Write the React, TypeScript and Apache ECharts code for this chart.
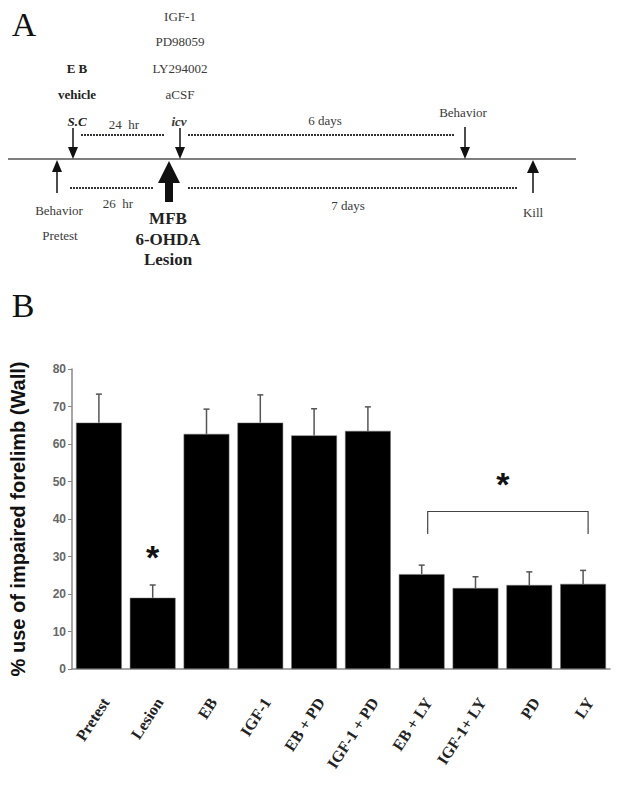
import React, { useEffect, useRef } from "react";
import * as echarts from "echarts";

const categories = ["Pretest", "Lesion", "EB", "IGF-1", "EB + PD", "IGF-1 + PD", "EB + LY", "IGF-1+ LY", "PD", "LY"];
const means = [65.7, 19.0, 62.7, 65.7, 62.3, 63.5, 25.3, 21.6, 22.4, 22.7];
const sems = [7.6, 3.4, 6.6, 7.4, 7.1, 6.4, 2.4, 3.0, 3.5, 3.6];
const yTicks = [0, 10, 20, 30, 40, 50, 60, 70, 80];
// significance marks: [category index, value]
const lesionStar = [[1, 31]];
// bracket: [fromIdx, toIdx, topValue, legBottomValue]
const bracket = [[6, 9, 42, 36]];

const SERIF = "'Liberation Serif', 'Times New Roman', serif";
const SANS = "'Liberation Sans', Arial, sans-serif";
const TXT = "#3a3a3a";

function downArrow(x: number, y0: number, y1: number, hw: number, hh: number, sw: number) {
  return [
    { type: "line", shape: { x1: x, y1: y0, x2: x, y2: y1 - hh + 1 }, style: { stroke: "#111", lineWidth: sw } },
    { type: "polygon", shape: { points: [[x - hw, y1 - hh], [x + hw, y1 - hh], [x, y1]] }, style: { fill: "#111" } },
  ];
}
function upArrow(x: number, y0: number, y1: number, hw: number, hh: number, sw: number) {
  return [
    { type: "line", shape: { x1: x, y1: y0 + hh - 1, x2: x, y2: y1 }, style: { stroke: "#111", lineWidth: sw } },
    { type: "polygon", shape: { points: [[x - hw, y0 + hh], [x + hw, y0 + hh], [x, y0]] }, style: { fill: "#111" } },
  ];
}
function txt(x: number, y: number, text: string, size: number, extra: any = {}) {
  return {
    type: "text",
    x,
    y,
    style: {
      text,
      fontFamily: SERIF,
      fontSize: size,
      fill: TXT,
      align: "center",
      verticalAlign: "middle",
      ...extra,
    },
  };
}
function dotted(x1: number, x2: number, y: number) {
  return { type: "line", shape: { x1, y1: y, x2, y2: y }, style: { stroke: "#333", lineWidth: 2, lineDash: [2, 1] } };
}

export default function App() {
  const ref = useRef<HTMLDivElement>(null);
  useEffect(() => {
    if (!ref.current) return;
    const chart = echarts.init(ref.current, null, { renderer: "svg" });
    const graphics: any[] = [
      txt(24, 24, "A", 34, { fill: "#111" }),
      txt(23, 305, "B", 34, { fill: "#111" }),
      // timeline
      { type: "line", shape: { x1: 8, y1: 159, x2: 576, y2: 159 }, style: { stroke: "#555", lineWidth: 1.5 } },
      ...downArrow(73, 128, 159, 5, 12, 1.5),
      ...downArrow(180, 128, 159, 5, 12, 1.5),
      ...downArrow(465, 127, 159, 5, 12, 1.5),
      ...upArrow(57, 160, 193, 5, 12, 1.5),
      ...upArrow(533, 160, 193, 6, 13, 1.5),
      ...upArrow(169, 161, 202, 11, 22, 8),
      dotted(81, 165, 135),
      dotted(188, 454, 135),
      dotted(70, 154, 188),
      dotted(188, 518, 188),
      txt(180, 16, "IGF-1", 13),
      txt(180, 41, "PD98059", 13),
      txt(180, 68, "LY294002", 13),
      txt(180, 94, "aCSF", 13),
      txt(179, 121, "icv", 13, { fontStyle: "italic", fontWeight: "bold" }),
      txt(77, 68, "E B", 13, { fontWeight: "bold", fill: "#222" }),
      txt(77, 94, "vehicle", 13, { fontWeight: "bold", fill: "#222" }),
      txt(77, 121, "S.C", 13, { fontWeight: "bold", fontStyle: "italic", fill: "#222" }),
      txt(124, 124, "24  hr", 13),
      txt(325, 120, "6 days", 13),
      txt(463, 112, "Behavior", 13),
      txt(118, 203, "26  hr", 13),
      txt(59, 210, "Behavior", 13),
      txt(60, 235, "Pretest", 13),
      txt(168, 218, "MFB", 17, { fontWeight: "bold", fill: "#222" }),
      txt(168, 239, "6-OHDA", 17, { fontWeight: "bold", fill: "#222" }),
      txt(168, 259, "Lesion", 17, { fontWeight: "bold", fill: "#222" }),
      txt(348, 205, "7 days", 13),
      txt(533, 212, "Kill", 13),
    ];

    chart.setOption({
      animation: false,
      backgroundColor: "#fff",
      graphic: graphics,
      grid: { left: 70, right: 8, top: 369, bottom: 116, containLabel: false },
      xAxis: {
        type: "category",
        data: categories,
        axisLine: { lineStyle: { color: "#888", width: 1.5 } },
        axisTick: { show: false },
        axisLabel: {
          interval: 0,
          rotate: 57,
          margin: 26,
          verticalAlign: "top",
          fontFamily: SERIF,
          fontWeight: "bold",
          fontSize: 16,
          color: "#222",
        },
      },
      yAxis: {
        type: "value",
        min: 0,
        max: 80,
        interval: 10,
        name: "% use of impaired forelimb (Wall)",
        nameLocation: "middle",
        nameRotate: 90,
        nameGap: 44,
        nameTextStyle: { fontFamily: SANS, fontWeight: "bold", fontSize: 20, color: "#111" },
        axisLine: { show: true, lineStyle: { color: "#888", width: 1.5 } },
        axisTick: { show: true, length: 4, lineStyle: { color: "#888" } },
        splitLine: { show: false },
        axisLabel: {
          fontFamily: SANS,
          fontSize: 12,
          fontWeight: "bold",
          color: "#666",
          margin: 6,
          formatter: (v: number) => (yTicks.includes(v) ? String(v) : ""),
        },
      },
      series: [
        {
          type: "bar",
          data: means,
          barCategoryGap: "15%",
          itemStyle: { color: "#000", borderColor: "#777", borderWidth: 0.5 },
          z: 2,
        },
        {
          type: "custom",
          data: means.map((m, i) => [i, m, m + sems[i]]),
          renderItem: (params: any, api: any) => {
            const top = api.coord([api.value(0), api.value(2)]);
            const base = api.coord([api.value(0), api.value(1)]);
            const x = base[0];
            return {
              type: "group",
              children: [
                { type: "line", shape: { x1: x, y1: base[1], x2: x, y2: top[1] }, style: { stroke: "#555", lineWidth: 1.5 } },
                { type: "line", shape: { x1: x - 3, y1: top[1], x2: x + 3, y2: top[1] }, style: { stroke: "#555", lineWidth: 1.5 } },
              ],
            };
          },
          z: 3,
        },
        {
          type: "custom",
          data: bracket,
          renderItem: (params: any, api: any) => {
            const a = api.coord([api.value(0), api.value(2)]);
            const b = api.coord([api.value(1), api.value(2)]);
            const a2 = api.coord([api.value(0), api.value(3)]);
            const xl = a[0] + 6;
            const xr = b[0] + 5;
            return {
              type: "group",
              children: [
                { type: "polyline", shape: { points: [[xl, a2[1]], [xl, a[1]], [xr, a[1]], [xr, a2[1]]] }, style: { stroke: "#444", lineWidth: 1.2, fill: "none" } },
                { type: "text", x: (xl + xr) / 2 - 5, y: a[1] - 28, style: { text: "*", fontFamily: SANS, fontWeight: "bold", fontSize: 34, fill: "#111", align: "center", verticalAlign: "middle" } },
              ],
            };
          },
          z: 3,
        },
        {
          type: "custom",
          data: lesionStar,
          renderItem: (params: any, api: any) => {
            const p = api.coord([api.value(0), api.value(1)]);
            return { type: "text", x: p[0], y: p[1] + 4, style: { text: "*", fontFamily: SANS, fontWeight: "bold", fontSize: 34, fill: "#111", align: "center", verticalAlign: "middle" } };
          },
          z: 3,
        },
      ],
    });
    return () => chart.dispose();
  }, []);
  return <div ref={ref} style={{ position: "fixed", left: 0, top: 0, width: 618, height: 785 }} />;
}
